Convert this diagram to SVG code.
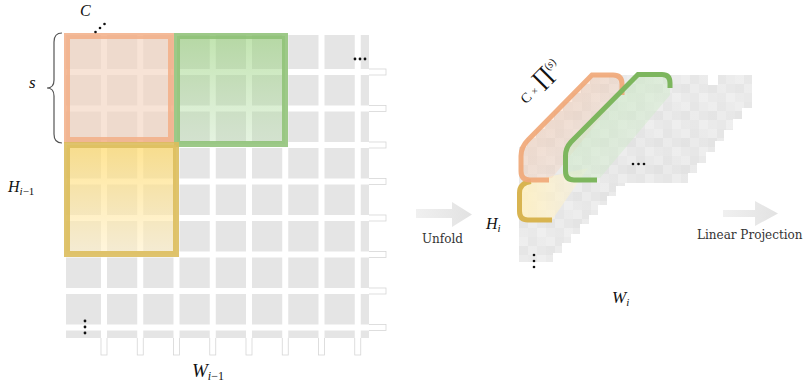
<svg xmlns="http://www.w3.org/2000/svg" width="804" height="385" viewBox="0 0 804 385">
<style>
.math{font-family:"Liberation Serif","DejaVu Serif",serif;font-style:italic;fill:#111}
.up{font-style:normal}
.lbl{font-family:"DejaVu Serif","Liberation Serif",serif;font-size:12px;fill:#333}
.ext{fill:#fff;stroke:#d6d6d6;stroke-width:0.8}
.wl{fill:#fff}
.dot{fill:#111}
</style>
<defs>
<linearGradient id="gGreen" x1="0" y1="0" x2="0" y2="1">
<stop offset="0" stop-color="#8fce6f" stop-opacity="0.55"/>
<stop offset="1" stop-color="#b4dca8" stop-opacity="0.35"/>
</linearGradient>
<linearGradient id="gYellow" x1="0" y1="0" x2="0" y2="1">
<stop offset="0" stop-color="#ffd966" stop-opacity="0.7"/>
<stop offset="1" stop-color="#fff0c8" stop-opacity="0.6"/>
</linearGradient>
<linearGradient id="gArrow" x1="0" y1="0" x2="1" y2="0">
<stop offset="0" stop-color="#f0f0f0"/>
<stop offset="1" stop-color="#e2e2e2"/>
</linearGradient>
<linearGradient id="gOrSheet" x1="0" y1="0" x2="1" y2="1">
<stop offset="0" stop-color="#f4b690" stop-opacity="0.45"/>
<stop offset="1" stop-color="#f8d8c4" stop-opacity="0.25"/>
</linearGradient>
<linearGradient id="gGrSheet" x1="0" y1="0" x2="1" y2="1">
<stop offset="0" stop-color="#c4e6bb" stop-opacity="0.7"/>
<stop offset="1" stop-color="#d8eed4" stop-opacity="0.3"/>
</linearGradient>
<linearGradient id="gYeSheet" x1="0" y1="0" x2="1" y2="0">
<stop offset="0" stop-color="#fff0c0" stop-opacity="0.9"/>
<stop offset="1" stop-color="#fff3d0" stop-opacity="0.35"/>
</linearGradient>
<pattern id="mos" x="519" y="75" width="27" height="27" patternUnits="userSpaceOnUse">
<rect width="27" height="27" fill="#e7e7e7"/>
<rect x="0" y="0" width="9" height="9" fill="#ececec"/>
<rect x="9" y="0" width="9" height="9" fill="#e4e4e4"/>
<rect x="18" y="0" width="9" height="9" fill="#e9e9e9"/>
<rect x="0" y="9" width="9" height="9" fill="#e2e2e2"/>
<rect x="9" y="9" width="9" height="9" fill="#eaeaea"/>
<rect x="18" y="9" width="9" height="9" fill="#e5e5e5"/>
<rect x="0" y="18" width="9" height="9" fill="#e8e8e8"/>
<rect x="9" y="18" width="9" height="9" fill="#e6e6e6"/>
<rect x="18" y="18" width="9" height="9" fill="#ededed"/>
</pattern>
<linearGradient id="gFade" x1="0" y1="1" x2="1" y2="0">
<stop offset="0" stop-color="#fff" stop-opacity="0.15"/>
<stop offset="0.5" stop-color="#fff" stop-opacity="0"/>
<stop offset="1" stop-color="#fff" stop-opacity="0.15"/>
</linearGradient>
</defs>

<!-- Left feature map grid -->
<g id="grid">
<rect class="ext" x="101" y="330" width="6" height="25"/>
<rect class="ext" x="137.25" y="330" width="6" height="25"/>
<rect class="ext" x="173.5" y="330" width="6" height="25"/>
<rect class="ext" x="209.75" y="330" width="6" height="25"/>
<rect class="ext" x="246" y="330" width="6" height="25"/>
<rect class="ext" x="282.25" y="330" width="6" height="25"/>
<rect class="ext" x="318.5" y="330" width="6" height="25"/>
<rect class="ext" x="354.75" y="330" width="6" height="25"/>
<rect class="ext" x="360" y="69" width="26" height="6"/>
<rect class="ext" x="360" y="105.5" width="26" height="6"/>
<rect class="ext" x="360" y="142" width="26" height="6"/>
<rect class="ext" x="360" y="178.5" width="26" height="6"/>
<rect class="ext" x="360" y="215" width="26" height="6"/>
<rect class="ext" x="360" y="251.5" width="26" height="6"/>
<rect class="ext" x="360" y="288" width="26" height="6"/>
<rect class="ext" x="360" y="324.5" width="26" height="6"/>
<rect x="66" y="35" width="303" height="303" fill="#e5e5e5"/>
<rect class="wl" x="101" y="35" width="6" height="303"/>
<rect class="wl" x="137.25" y="35" width="6" height="303"/>
<rect class="wl" x="173.5" y="35" width="6" height="303"/>
<rect class="wl" x="209.75" y="35" width="6" height="303"/>
<rect class="wl" x="246" y="35" width="6" height="303"/>
<rect class="wl" x="282.25" y="35" width="6" height="303"/>
<rect class="wl" x="318.5" y="35" width="6" height="303"/>
<rect class="wl" x="354.75" y="35" width="6" height="303"/>
<rect class="wl" x="66" y="69" width="303" height="6"/>
<rect class="wl" x="66" y="105.5" width="303" height="6"/>
<rect class="wl" x="66" y="142" width="303" height="6"/>
<rect class="wl" x="66" y="178.5" width="303" height="6"/>
<rect class="wl" x="66" y="215" width="303" height="6"/>
<rect class="wl" x="66" y="251.5" width="303" height="6"/>
<rect class="wl" x="66" y="288" width="303" height="6"/>
<rect class="wl" x="66" y="324.5" width="303" height="6"/>
<circle class="dot" cx="355" cy="59" r="1.4"/>
<circle class="dot" cx="360" cy="59" r="1.4"/>
<circle class="dot" cx="365" cy="59" r="1.4"/>
<circle class="dot" cx="85" cy="321" r="1.4"/>
<circle class="dot" cx="85" cy="327" r="1.4"/>
<circle class="dot" cx="85" cy="333" r="1.4"/>
</g>

<g id="window-orange">
<rect x="67" y="36" width="104" height="104" fill="#f2d4c0" fill-opacity="0.65" stroke="#f2ae86" stroke-opacity="0.85" stroke-width="6"/>
</g>
<g id="window-green">
<rect x="177" y="36" width="108" height="108" fill="url(#gGreen)" stroke="#8cc073" stroke-opacity="0.85" stroke-width="6"/>
</g>
<g id="window-yellow">
<rect x="67" y="145" width="109" height="109" fill="url(#gYellow)" stroke="#dcbc5c" stroke-opacity="0.9" stroke-width="6"/>
</g>

<g id="left-labels">
<text class="math" x="80" y="16" font-size="16">C</text>
<circle class="dot" cx="95.5" cy="32" r="1.3"/>
<circle class="dot" cx="100" cy="28" r="1.3"/>
<circle class="dot" cx="104.5" cy="24" r="1.3"/>
<path d="M62,33 Q54,33 54,42 L54,80 Q54,88 47,88 Q54,88 54,96 L54,134 Q54,143 62,143" fill="none" stroke="#555" stroke-width="1.2"/>
<text class="math" x="29" y="88" font-size="17">s</text>
<text class="math" x="8" y="192" font-size="16">H<tspan font-size="11" dy="3">i</tspan><tspan class="up" font-size="11">−1</tspan></text>
<text class="math" x="192" y="377" font-size="19">W<tspan font-size="12" dy="3">i</tspan><tspan class="up" font-size="12">−1</tspan></text>
</g>

<g id="unfold-arrow">
<polygon points="416,209 452,209 452,202 472,214.5 452,227 452,218 416,218" fill="url(#gArrow)"/>
<text class="lbl" x="422" y="243">Unfold</text>
</g>

<!-- Unfolded tensor -->
<g id="unfolded">
<polygon points="519,147 527,147 527,138 536,138 536,129 545,129 545,120 554,120 554,111 563,111 563,102 572,102 572,93 581,93 581,84 590,84 590,75 708,75 708,85 718,85 718,75 752,75 752,108 742,108 742,119 733,119 733,130 724,130 724,141 715,141 715,152 706,152 706,163 697,163 697,173 688,173 688,183 625,183 625,186 616,186 616,196 607,196 607,205 598,205 598,215 589,215 589,224 580,224 580,234 571,234 571,243 562,243 562,253 553,253 553,262 519,262" fill="url(#mos)"/>
<polygon points="519,147 527,147 527,138 536,138 536,129 545,129 545,120 554,120 554,111 563,111 563,102 572,102 572,93 581,93 581,84 590,84 590,75 708,75 708,85 718,85 718,75 752,75 752,108 742,108 742,119 733,119 733,130 724,130 724,141 715,141 715,152 706,152 706,163 697,163 697,173 688,173 688,183 625,183 625,186 616,186 616,196 607,196 607,205 598,205 598,215 589,215 589,224 580,224 580,234 571,234 571,243 562,243 562,253 553,253 553,262 519,262" fill="url(#gFade)"/>
<path d="M519.5,193 Q519.5,183 530,181 L588,168 L552,220 L528,220 Q519.5,220 519.5,211 Z" fill="url(#gYeSheet)"/>
<path d="M521,171 L521,156 Q521,147 528,140 L592,75 L613,75 Q622,75 622,84 L622,92 L552,178 L530,180 Q521,180 521,171 Z" fill="url(#gOrSheet)"/>
<path d="M565.5,171 L565.5,156 Q565.5,148 571,142 L638,74.5 L662,74.5 Q670,74.5 670,83 L670,95 L600,178 L574,180 Q565.5,180 565.5,171 Z" fill="url(#gGrSheet)"/>
<circle class="dot" cx="633" cy="164" r="1.3"/>
<circle class="dot" cx="638.5" cy="164" r="1.3"/>
<circle class="dot" cx="644" cy="164" r="1.3"/>
<circle class="dot" cx="534" cy="255" r="1.3"/>
<circle class="dot" cx="534" cy="261" r="1.3"/>
<circle class="dot" cx="534" cy="267" r="1.3"/>
</g>
<g id="slice-yellow">
<path d="M531,181.5 Q519.5,183 519.5,193 L519.5,211 Q519.5,220 528,220 L552,220" fill="none" stroke="#d8b450" stroke-width="5"/>
</g>
<g id="slice-orange">
<path d="M549,180 L530,180 Q521,180 521,171 L521,156 Q521,147 528,140 L592,75 L613,75 Q622,75 622,84 L622,95" fill="none" stroke="#f0a878" stroke-opacity="0.92" stroke-width="5"/>
</g>
<g id="slice-green">
<path d="M597,180 L574,180 Q565.5,180 565.5,171 L565.5,156 Q565.5,148 571,142 L638,74.5 L662,74.5 Q670,74.5 670,83 L670,88" fill="none" stroke="#7db65e" stroke-width="5"/>
</g>

<g id="right-labels">
<g transform="translate(526,104.4) rotate(-45)">
<text x="0" y="0" font-family="Liberation Serif, DejaVu Serif, serif" font-size="14" fill="#111">C <tspan font-size="10">×</tspan> <tspan font-family="DejaVu Serif, serif" font-size="22">∏</tspan><tspan font-size="11" dy="-8">(</tspan><tspan font-size="11" font-style="italic">s</tspan><tspan font-size="11">)</tspan></text>
</g>
<text class="math" x="486" y="229" font-size="16">H<tspan font-size="11" dy="3">i</tspan></text>
<text class="math" x="612" y="303" font-size="17">W<tspan font-size="11" dy="3">i</tspan></text>
</g>

<g id="projection-arrow">
<polygon points="723,210 755,210 755,201 778,213.5 755,226 755,217 723,217" fill="url(#gArrow)"/>
<text class="lbl" x="697" y="239">Linear Projection</text>
</g>
</svg>
